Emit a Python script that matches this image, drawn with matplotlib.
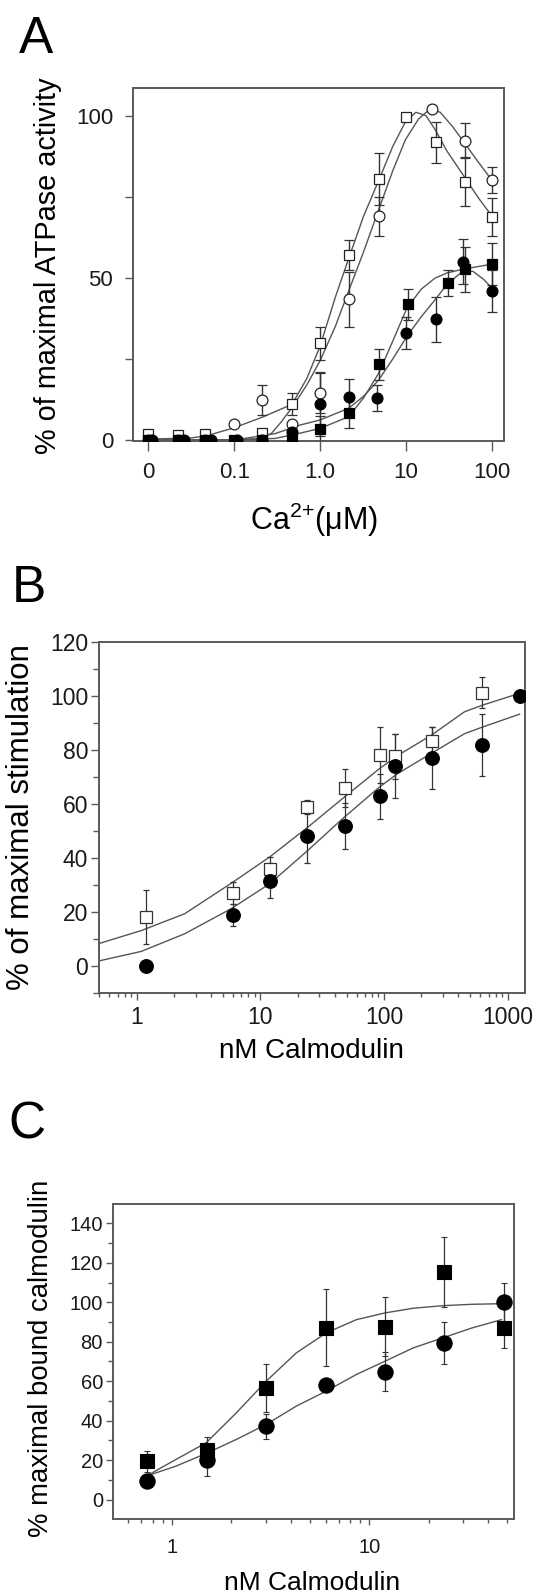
import matplotlib
matplotlib.use("Agg")
import matplotlib.pyplot as plt
from matplotlib.ticker import LogLocator, NullFormatter, NullLocator, FixedLocator

plt.rcParams['font.family'] = ['Liberation Sans', 'DejaVu Sans']
plt.rcParams['mathtext.fontset'] = 'custom'
plt.rcParams['mathtext.rm'] = 'Liberation Sans'
plt.rcParams['mathtext.default'] = 'regular'

# ---------------- Panel A data ----------------
a_os_x = [0.01, 0.022, 0.046, 0.21, 0.47, 1.0, 2.15, 4.8, 10, 22, 48, 100]
a_os_y = [2, 1.5, 1.8, 2.3, 11.1, 29.8, 57, 80.5, 99.7, 91.7, 79.6, 68.7]
a_os_e = [0, 0, 0, 0, 3.3, 5, 4.5, 8, 0, 6.2, 7.6, 5.8]

a_oc_x = [0.01, 0.022, 0.046, 0.1, 0.21, 0.47, 1.0, 2.15, 4.8, 20, 48, 100]
a_oc_y = [0, 0, 0, 4.9, 12.3, 4.9, 14.6, 43.4, 69, 102, 92.3, 80.2]
a_oc_e = [0, 0, 0, 0, 4.7, 0, 6.3, 8.5, 6, 0, 5.3, 4]

a_fs_x = [0.01, 0.022, 0.046, 0.1, 0.21, 0.47, 1.0, 2.15, 4.8, 10.4, 31, 48, 100]
a_fs_y = [0, 0, 0, 0, 0, 0, 3.3, 8.2, 23.3, 41.8, 48.3, 52.6, 54.2]
a_fs_e = [0, 0, 0, 0, 0, 0, 4, 4.6, 4.9, 4.9, 4, 7, 6.5]

a_fc_x = [0.011, 0.026, 0.054, 0.109, 0.21, 0.47, 1.0, 2.15, 4.6, 10, 22, 46, 100]
a_fc_y = [0, 0, 0, 0, 0, 2.6, 11.1, 13.2, 12.9, 33, 37.2, 55, 46]
a_fc_e = [0, 0, 0, 0, 0, 0, 9.7, 5.6, 4, 5, 7, 7, 6.5]

# fitted curves
a_cs_x = [0.01, 0.03, 0.046, 0.1, 0.21, 0.47, 0.7, 1.0, 1.5, 2.15, 3.2, 4.8, 7, 9.8, 13, 17, 22, 30, 48, 70, 100]
a_cs_y = [0.3, 0.6, 1.2, 3.8, 7, 11, 19, 29, 44, 56, 69, 80, 90.5, 98, 101, 100, 95.5, 89, 81, 74.5, 69]
a_cc_x = [0.01, 0.1, 0.2, 0.27, 0.35, 0.47, 0.7, 1.0, 1.5, 2.15, 3.2, 4.8, 7, 9.8, 14, 19, 25, 35, 48, 70, 100]
a_cc_y = [0, 0, 0.5, 2, 5.5, 10, 17, 24.5, 35, 46, 58, 71, 83, 92.5, 99, 102, 101, 96.5, 91.5, 85.5, 80]
a_cfs_x = [0.01, 0.1, 0.3, 0.58, 1.0, 2.15, 3.2, 4.8, 7, 10.2, 15, 21.7, 30, 45, 70, 100]
a_cfs_y = [0, 0, 0.5, 2.1, 3.6, 7.2, 13, 20.6, 30.5, 40.6, 46.5, 49.9, 51.5, 52.6, 53.5, 54.2]
a_cfc_x = [0.01, 0.1, 0.3, 0.58, 1.0, 2.15, 3.2, 4.8, 7, 10.2, 15, 21.7, 30, 45, 60, 80, 100]
a_cfc_y = [0, 0, 2, 4.6, 6.2, 9.8, 13.5, 18.5, 25, 31.9, 38, 43.2, 48, 51.9, 52, 49.5, 46.8]

a_xticks = [0.01, 0.1, 1, 10, 100]
a_xticklabels = ["0", "0.1", "1.0", "10", "100"]
a_yticks = [0, 50, 100]
a_yminor = [25, 75]

# ---------------- Panel B data ----------------
b_x = [1.2, 6, 12, 24, 48, 92, 123, 245, 620]
b_os_y = [18.1, 27, 36, 58.9, 65.9, 78, 77.7, 83.3, 101.2]
b_os_e = [10, 4, 4.4, 2.5, 7.2, 10.3, 8.3, 5, 5.8]
b_fc_x = [1.2, 6, 12, 24, 48, 92, 123, 245, 620, 1250]
b_fc_y = [0.2, 19, 31.7, 48, 51.7, 62.8, 74, 77, 81.7, 100]
b_fc_e = [0, 4, 6.5, 10, 8.5, 8.2, 11.7, 11.3, 11.5, 0]
b_curve_x = [0.488, 1.09, 2.44, 5.82, 11.9, 24.3, 47.9, 92.1, 129.6, 241, 448, 631, 1247]
b_curve_os = [8.3, 13.2, 19.4, 30.7, 40.4, 51.5, 62.6, 73.1, 78, 85.4, 94.1, 96.6, 100.9]
b_curve_fc = [1.9, 5.5, 12, 21.3, 30.5, 42.9, 55.2, 66.3, 71.3, 78.7, 86, 88.5, 93.2]
b_yticks = [0, 20, 40, 60, 80, 100, 120]
b_yminor = [-10, 10, 30, 50, 70, 90, 110]
b_xticks = [1, 10, 100, 1000]
b_xticklabels = ["1", "10", "100", "1000"]

# ---------------- Panel C data ----------------
c_x = [0.75, 1.5, 3, 6, 12, 24, 48]
c_sq_y = [19.4, 25, 56.5, 87.2, 87.7, 115.2, 87.2]
c_sq_e = [5.4, 6.7, 12.3, 19.5, 15, 17.7, 10.2]
c_ci_y = [9.3, 20.2, 37.1, 58.2, 64.9, 79.3, 100]
c_ci_e = [0, 8.4, 6.2, 2, 10, 10.6, 10]
c_curve_x = [0.741, 1.05, 1.49, 2.12, 3.0, 4.27, 6.05, 8.59, 11.97, 16.7, 23.6, 33.1, 46.7]
c_curve_sq = [11.9, 20.4, 28.8, 44, 60, 74.4, 84.5, 91.2, 94.6, 97, 98.3, 99, 99.3]
c_curve_ci = [11.9, 17, 23.4, 30.5, 38.1, 47.4, 55, 63.4, 70.1, 76.9, 82, 87, 91.2]
c_yticks = [0, 20, 40, 60, 80, 100, 120, 140]
c_yminor = [10, 30, 50, 70, 90, 110, 130]
c_xticks = [1, 10]
c_xticklabels = ["1", "10"]

# ---------------- Figure ----------------
W, H = 538, 1592
fig = plt.figure(figsize=(W / 100, H / 100), dpi=100)


def add_axes(l, r, t, b):
    return fig.add_axes([l / W, 1 - b / H, (r - l) / W, (b - t) / H])


def fx(x):
    return x / W


def fy(y):
    return 1 - y / H


SPINE = '#5a5a5a'
CURVE = '#555555'
ERR = '#333333'

def style(ax, labelsize, ylen, ypad, xlen, xpad, spine_lw=1.4):
    for s in ax.spines.values():
        s.set_color(SPINE)
        s.set_linewidth(spine_lw)
    ax.tick_params(which='both', direction='out', color=SPINE, width=1.0,
                   labelsize=labelsize, labelcolor='#1a1a1a')
    ax.tick_params(axis='y', which='major', length=ylen, pad=ypad)
    ax.tick_params(axis='y', which='minor', length=ylen * 0.75)
    ax.tick_params(axis='x', which='major', length=xlen, pad=xpad)
    ax.tick_params(axis='x', which='minor', length=xlen * 0.6)


# ----- Panel A -----
axA = add_axes(132.7, 504.3, 88.3, 440.7)
axA.set_xscale('log')
axA.set_xlim(0.00658, 139)
axA.set_ylim(-0.2, 108.4)
axA.plot(a_cs_x, a_cs_y, color=CURVE, lw=1.0, zorder=2)
axA.plot(a_cc_x, a_cc_y, color=CURVE, lw=1.0, zorder=2)
axA.plot(a_cfs_x, a_cfs_y, color=CURVE, lw=1.0, zorder=2)
axA.plot(a_cfc_x, a_cfc_y, color=CURVE, lw=1.0, zorder=2)
ekw = dict(ls='none', ecolor=ERR, elinewidth=1.0, capsize=3.3, capthick=1.0, zorder=3)
axA.errorbar(a_os_x, a_os_y, yerr=a_os_e, marker='s', ms=7.2, mfc='white', mec='#222222', mew=0.9, **ekw)
axA.errorbar(a_oc_x, a_oc_y, yerr=a_oc_e, marker='o', ms=7.8, mfc='white', mec='#222222', mew=0.9, **ekw)
axA.errorbar(a_fs_x, a_fs_y, yerr=a_fs_e, marker='s', ms=7.2, mfc='black', mec='black', mew=0.9, **ekw)
axA.errorbar(a_fc_x, a_fc_y, yerr=a_fc_e, marker='o', ms=7.8, mfc='black', mec='black', mew=0.9, **ekw)
axA.xaxis.set_major_locator(FixedLocator(a_xticks))
axA.set_xticklabels(a_xticklabels)
axA.xaxis.set_minor_locator(NullLocator())
axA.set_yticks(a_yticks)
axA.yaxis.set_minor_locator(FixedLocator(a_yminor))
style(axA, 16, 6.0, 8.0, 7.0, 8.0)
axA.tick_params(axis='y', which='minor', length=6.0)

fig.text(fx(18.5), fy(53.3), "A", fontsize=37, ha='left', va='baseline')
fig.text(fx(48.5), fy(265.8), "% of maximal ATPase activity", fontsize=20.8,
         rotation=90, ha='center', va='center')
fig.text(fx(313.5), fy(530), "Ca$^{2{+}}$(\u03bcM)", fontsize=22, ha='center', va='baseline')

# ----- Panel B -----
axB = add_axes(98.7, 525.0, 641.7, 993.3)
axB.set_xscale('log')
axB.set_xlim(0.493, 1380)
axB.set_ylim(-10, 120)
axB.plot(b_curve_x, b_curve_os, color=CURVE, lw=1.0, zorder=2)
axB.plot(b_curve_x, b_curve_fc, color=CURVE, lw=1.0, zorder=2)
ekwB = dict(ls='none', ecolor=ERR, elinewidth=0.9, capsize=2.5, capthick=0.9, zorder=3)
axB.errorbar(b_x, b_os_y, yerr=b_os_e, marker='s', ms=8.2, mfc='white', mec='#333333', mew=0.9, **ekwB)
axB.errorbar(b_fc_x, b_fc_y, yerr=b_fc_e, marker='o', ms=9.8, mfc='black', mec='black', mew=0.9, **ekwB)
axB.xaxis.set_major_locator(FixedLocator(b_xticks))
axB.set_xticklabels(b_xticklabels)
axB.xaxis.set_minor_locator(LogLocator(base=10, subs=range(2, 10)))
axB.xaxis.set_minor_formatter(NullFormatter())
axB.set_yticks(b_yticks)
axB.yaxis.set_minor_locator(FixedLocator(b_yminor))
style(axB, 16.5, 5.5, 2.0, 5.0, 4.0)
axB.tick_params(axis='x', which='minor', length=3.0)

fig.text(fx(11.5), fy(601.7), "B", fontsize=37, ha='left', va='baseline')
fig.text(fx(21.5), fy(817.5), "% of maximal stimulation", fontsize=22.5,
         rotation=90, ha='center', va='center')
fig.text(fx(311.5), fy(1057.5), "nM Calmodulin", fontsize=20, ha='center', va='baseline')

# ----- Panel C -----
axC = add_axes(113.3, 514.3, 1203.7, 1519.3)
axC.set_xscale('log')
axC.set_xlim(0.504, 54.3)
axC.set_ylim(-10, 150)
axC.plot(c_curve_x, c_curve_sq, color=CURVE, lw=1.0, zorder=2)
axC.plot(c_curve_x, c_curve_ci, color=CURVE, lw=1.0, zorder=2)
ekwC = dict(ls='none', ecolor=ERR, elinewidth=0.9, capsize=2.4, capthick=0.9, zorder=3)
axC.errorbar(c_x, c_sq_y, yerr=c_sq_e, marker='s', ms=10.6, mfc='black', mec='black', mew=0.8, **ekwC)
axC.errorbar(c_x, c_ci_y, yerr=c_ci_e, marker='o', ms=11.0, mfc='black', mec='black', mew=0.8, **ekwC)
axC.xaxis.set_major_locator(FixedLocator(c_xticks))
axC.set_xticklabels(c_xticklabels)
axC.xaxis.set_minor_locator(LogLocator(base=10, subs=range(2, 10)))
axC.xaxis.set_minor_formatter(NullFormatter())
axC.set_yticks(c_yticks)
axC.yaxis.set_minor_locator(FixedLocator(c_yminor))
style(axC, 14.5, 5.0, 2.5, 4.5, 9.0)
axC.tick_params(axis='x', which='minor', length=3.0)

fig.text(fx(8.0), fy(1138.6), "C", fontsize=37, ha='left', va='baseline')
fig.text(fx(40.8), fy(1358), "% maximal bound calmodulin", fontsize=19.8,
         rotation=90, ha='center', va='center')
fig.text(fx(312.5), fy(1590), "nM Calmodulin", fontsize=19, ha='center', va='baseline')

fig.savefig("out.png", dpi=100, facecolor='white')
